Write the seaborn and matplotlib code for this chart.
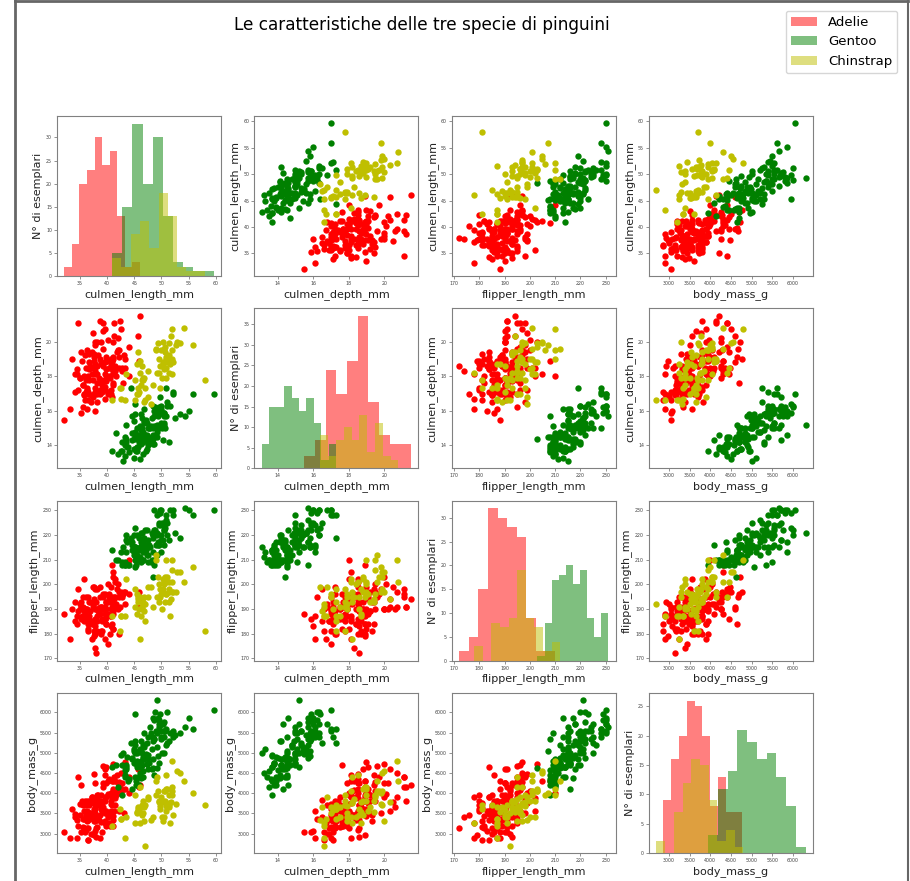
import pandas as pd
import matplotlib
matplotlib.use('Agg')
import matplotlib.pyplot as plt
import seaborn as sns
from matplotlib.patches import Patch
from matplotlib.lines import Line2D

features = ['culmen_length_mm', 'culmen_depth_mm', 'flipper_length_mm', 'body_mass_g']
species = ['Adelie', 'Gentoo', 'Chinstrap']
colors = ['red', 'green', 'y']

# Adelie
adelie_culmen_length = [39.1, 39.5, 40.3, 36.7, 39.3, 38.9, 39.2, 34.1, 42.0, 37.8, 37.8, 41.1, 38.6, 34.6, 36.6, 38.7, 42.5, 34.4, 46.0,
                        37.8, 37.7, 35.9, 38.2, 38.8, 35.3, 40.6, 40.5, 37.9, 40.5,
                        39.5, 37.2, 39.5, 40.9, 36.4, 39.2, 38.8, 42.2, 37.6, 39.8, 36.5, 40.8, 36.0, 44.1, 37.0, 39.6, 41.1, 37.5, 36.0, 42.3,
                        39.6, 40.1, 35.0, 42.0, 34.5, 41.4, 39.0, 40.6, 36.5, 37.6, 35.7, 41.3, 37.6, 41.1, 36.4, 41.6, 35.5, 41.1,
                        35.9, 41.8, 33.5, 39.7, 39.6, 45.8, 35.5, 42.8, 40.9, 37.2, 36.2, 42.1, 34.6, 42.9, 36.7, 35.1,
                        37.3, 41.3, 36.3, 36.9, 38.3, 38.9, 35.7, 41.1, 34.0, 39.6, 36.2, 40.8, 38.1, 40.3, 33.1, 43.2,
                        35.0, 41.0, 37.7, 37.8, 37.9, 39.7, 38.6, 38.2, 38.1, 43.2, 38.1, 45.6, 39.7, 42.2, 39.6, 42.7,
                        38.6, 37.3, 35.7, 41.1, 36.2, 37.7, 40.2, 41.4, 35.2, 40.6, 38.8, 41.5, 39.0, 44.1, 38.5, 43.1,
                        36.8, 37.5, 38.1, 41.1, 35.6, 40.2, 37.0, 39.7, 40.2, 40.6, 32.1, 40.7, 37.3, 39.0, 39.2, 36.6, 36.0, 37.8, 36.0, 41.5]
adelie_culmen_depth = [18.7, 17.4, 18.0, 19.3, 20.6, 17.8, 19.6, 18.1, 20.2, 17.1, 17.3, 17.6, 21.2, 21.1, 17.8, 19.0, 20.7, 18.4, 21.5,
                       18.3, 18.7, 19.2, 18.1, 17.2, 18.9, 18.6, 17.9, 18.6, 18.9,
                       16.7, 18.1, 17.8, 18.9, 17.0, 21.1, 20.0, 18.5, 19.3, 19.1, 18.0, 18.4, 18.5, 19.7, 16.9, 18.8, 19.0, 18.9, 17.9, 21.2,
                       17.7, 18.9, 17.9, 19.5, 18.1, 18.6, 17.5, 18.8, 16.6, 19.1, 16.9, 21.1, 17.0, 18.2, 17.1, 18.0, 16.2, 19.1,
                       16.6, 19.4, 19.0, 18.4, 17.2, 18.9, 17.5, 18.5, 16.8, 19.4, 16.1, 19.1, 17.2, 17.6, 18.8, 19.4,
                       17.8, 20.3, 19.5, 18.6, 19.2, 18.8, 18.0, 18.1, 17.1, 18.1, 17.3, 18.9, 18.6, 18.5, 16.1, 18.5,
                       17.9, 20.0, 16.0, 20.0, 18.6, 18.9, 17.2, 20.0, 17.0, 19.0, 16.5, 20.3, 17.7, 19.5, 20.7, 18.3,
                       17.0, 20.5, 17.0, 18.6, 17.2, 19.8, 17.0, 18.5, 15.9, 19.0, 17.6, 18.3, 17.1, 18.0, 17.9, 19.2,
                       18.5, 18.5, 17.6, 17.5, 17.5, 20.1, 16.5, 17.9, 17.1, 17.2, 15.5, 17.0, 16.8, 18.7, 18.6, 18.4, 17.8, 18.1, 17.1, 18.5]
adelie_flipper_length = [181, 186, 195, 193, 190, 181, 195, 193, 190, 186, 180, 182, 191, 198, 185, 195, 197, 184, 194,
                         174, 180, 189, 185, 180, 187, 183, 187, 172, 180,
                         178, 178, 188, 184, 195, 196, 190, 180, 181, 184, 182, 195, 186, 196, 185, 190, 182, 179, 190, 191,
                         186, 188, 190, 200, 187, 191, 186, 193, 181, 194, 185, 195, 185, 192, 184, 192, 195, 188,
                         190, 198, 190, 190, 196, 197, 190, 195, 191, 184, 187, 195, 189, 196, 187, 193,
                         191, 194, 190, 189, 189, 190, 202, 205, 185, 186, 187, 208, 190, 196, 178, 192,
                         192, 203, 183, 190, 193, 184, 199, 190, 181, 197, 198, 191, 193, 197, 191, 196,
                         188, 199, 189, 189, 187, 198, 176, 202, 186, 199, 191, 195, 191, 210, 190, 197,
                         193, 199, 187, 190, 191, 200, 185, 193, 193, 187, 188, 190, 192, 185, 190, 184, 195, 193, 187, 201]
adelie_body_mass = [3750, 3800, 3250, 3450, 3650, 3625, 4675, 3475, 4250, 3300, 3700, 3200, 3800, 4400, 3700, 3450, 4500, 3325, 4200,
                    3400, 3600, 3800, 3950, 3800, 3800, 3550, 3200, 3150, 3950,
                    3250, 3900, 3300, 3900, 3325, 4150, 3950, 3550, 3300, 4650, 3150, 3900, 3100, 4400, 3000, 4600, 3425, 2975, 3450, 4150,
                    3500, 4300, 3450, 4050, 2900, 3700, 3550, 3800, 2850, 3750, 3150, 4400, 3600, 4050, 2850, 3950, 3350, 4100,
                    3050, 4450, 3600, 3900, 3550, 4150, 3700, 4250, 3700, 3900, 3550, 4000, 3200, 4700, 3800, 4200,
                    3350, 3550, 3800, 3500, 3950, 3600, 3550, 4300, 3400, 4450, 3300, 4300, 3700, 4350, 2900, 4100,
                    3725, 4725, 3075, 4250, 2925, 3550, 3750, 3900, 3175, 4775, 3825, 4600, 3200, 4275, 3900, 4075,
                    2900, 3775, 3350, 3325, 3150, 3500, 3450, 3875, 3050, 4000, 3275, 4300, 3050, 4000, 3325, 3500,
                    3500, 4475, 3425, 3900, 3175, 3975, 3400, 4250, 3400, 3475, 3050, 3725, 3000, 3650, 4250, 3475, 3450, 3750, 3700, 4000]

# Gentoo
gentoo_culmen_length = [46.1, 50.0, 48.7, 50.0, 47.6, 46.5, 45.4, 46.7, 43.3, 46.8, 40.9, 49.0, 45.5, 48.4, 45.8, 49.3, 42.0, 49.2, 46.2, 48.7,
                        50.2, 45.1, 46.5, 46.3, 42.9, 46.1, 44.5, 47.8, 48.2, 50.0, 47.3, 42.8, 45.1, 59.6,
                        49.1, 48.4, 42.6, 44.4, 44.0, 48.7, 42.7, 49.6, 45.3, 49.6, 50.5, 43.6, 45.5, 50.5, 44.9, 45.2, 46.6, 48.5, 45.1, 50.1,
                        46.5, 45.0, 43.8, 45.5, 43.2, 50.4, 45.3, 46.2, 45.7, 54.3, 45.8, 49.8, 46.2, 49.5, 43.5, 50.7, 47.7, 46.4, 48.2, 46.5,
                        46.4, 48.6, 47.5, 51.1, 45.2, 45.2,
                        49.1, 52.5, 47.4, 50.0, 44.9, 50.8, 43.4, 51.3, 47.5, 52.1, 47.5, 52.2, 45.5, 49.5, 44.5, 50.8, 49.4, 46.9, 48.4, 51.1,
                        48.5, 55.9, 47.2, 49.1, 47.3, 46.8, 41.7, 53.4, 43.3, 48.1, 50.5, 49.8, 43.5, 51.5, 46.2, 55.1, 44.5, 48.8, 47.2,
                        46.8, 50.4, 45.2, 49.9]
gentoo_culmen_depth = [13.2, 16.3, 14.1, 15.2, 14.5, 13.5, 14.6, 15.3, 13.4, 15.4, 13.7, 16.1, 13.7, 14.6, 14.6, 15.7, 13.5, 15.2, 14.5, 15.1,
                       14.3, 14.5, 14.5, 15.8, 13.1, 15.1, 14.3, 15.0, 14.3, 15.3, 15.3, 14.2, 14.5, 17.0,
                       14.8, 16.3, 13.7, 17.3, 13.6, 15.7, 13.7, 16.0, 13.7, 15.0, 15.9, 13.9, 13.9, 15.9, 13.3, 15.8, 14.2, 14.1, 14.4, 15.0,
                       14.4, 15.4, 13.9, 15.0, 14.5, 15.3, 13.8, 14.9, 13.9, 15.7, 14.2, 16.8, 14.4, 16.2, 14.2, 15.0, 15.0, 15.6, 15.6, 14.8,
                       15.0, 16.0, 14.2, 16.3, 13.8, 16.4,
                       14.5, 15.6, 14.6, 15.9, 13.8, 17.3, 14.4, 14.2, 14.0, 17.0, 15.0, 17.1, 14.5, 16.1, 14.7, 15.7, 15.8, 14.6, 14.4, 16.5,
                       15.0, 17.0, 15.5, 15.0, 13.8, 16.1, 14.7, 15.8, 14.0, 15.1, 15.2, 15.9, 15.2, 16.3, 14.1, 16.0, 15.7, 16.2, 13.7,
                       14.3, 15.7, 14.8, 16.1]
gentoo_flipper_length = [211, 230, 210, 218, 215, 210, 211, 219, 209, 215, 214, 216, 214, 213, 210, 217, 210, 221, 209, 222,
                         218, 215, 213, 215, 215, 215, 216, 215, 210, 220, 222, 209, 207, 230,
                         220, 220, 213, 219, 208, 208, 208, 225, 210, 216, 222, 217, 210, 225, 213, 215, 210, 220, 210, 225,
                         217, 220, 208, 220, 208, 224, 208, 221, 214, 231, 219, 230, 214, 229, 220, 223, 216, 221, 221, 217,
                         216, 230, 209, 220, 215, 223,
                         212, 221, 212, 224, 212, 228, 218, 218, 212, 230, 218, 228, 212, 224, 214, 226, 216, 222, 203, 225,
                         219, 228, 215, 228, 216, 215, 210, 219, 208, 209, 216, 229, 213, 230, 217, 230, 217, 222, 214,
                         215, 222, 212, 213]
gentoo_body_mass = [4500, 5700, 4450, 5700, 5400, 4550, 4800, 5200, 4400, 5150, 4650, 5550, 4650, 5850, 4200, 5850, 4150, 6300, 4800, 5350,
                    5700, 5000, 4400, 5050, 5000, 5100, 4100, 5650, 4600, 5550, 5250, 4700, 5050, 6050,
                    5150, 5400, 4950, 5250, 4350, 5350, 3950, 5700, 4300, 4750, 5550, 4900, 4200, 5400, 5100, 5300, 4850, 5300, 4400, 5000,
                    4900, 5050, 4300, 5000, 4450, 5550, 4200, 5300, 4400, 5650, 4700, 5700, 4650, 5800, 4700, 5550, 4750, 5000, 5100, 5200,
                    4700, 5800, 4600, 6000, 4750, 5950,
                    4625, 5450, 4725, 5350, 4750, 5600, 4600, 5300, 4875, 5550, 4950, 5400, 4750, 5650, 4850, 5200, 4925, 4875, 4625, 5250,
                    4850, 5600, 4975, 5500, 4725, 5500, 4700, 5500, 4575, 5500, 5000, 5950, 4650, 5500, 4375, 5850, 4875, 6000, 4925,
                    4850, 5750, 5200, 5400]

# Chinstrap
chinstrap_culmen_length = [46.5, 50.0, 51.3, 45.4, 52.7, 45.2, 46.1, 51.3, 46.0, 51.3, 46.6, 51.7, 47.0, 52.0, 45.9, 50.5, 50.3, 58.0, 46.4, 49.2,
                           42.4, 48.5, 43.2, 50.6, 46.7, 52.0,
                           50.5, 49.5, 46.4, 52.8, 40.9, 54.2, 42.5, 51.0, 49.7, 47.5, 47.6, 52.0, 46.9, 53.5, 49.0, 46.2, 50.9, 45.5, 50.9, 50.8,
                           50.1, 49.0, 51.5, 49.8, 48.1, 51.4, 45.7, 50.7, 42.5, 52.2, 45.2, 49.3, 50.2, 45.6, 51.9, 46.8, 45.7, 55.8, 43.5, 49.6,
                           50.8, 50.2]
chinstrap_culmen_depth = [17.9, 19.5, 19.2, 18.7, 19.8, 17.8, 18.2, 18.2, 18.9, 19.9, 17.8, 20.3, 17.3, 18.1, 17.1, 19.6, 20.0, 17.8, 18.6, 18.2,
                          17.3, 17.5, 16.6, 19.4, 17.9, 19.0,
                          18.4, 19.0, 17.8, 20.0, 16.6, 20.8, 16.7, 18.8, 18.6, 16.8, 18.3, 20.7, 16.6, 19.9, 19.5, 17.5, 19.1, 17.0, 17.9, 18.5,
                          17.9, 19.6, 18.7, 17.3, 16.4, 19.0, 17.3, 19.7, 17.3, 18.8, 16.6, 19.9, 18.8, 19.4, 19.5, 16.5, 17.0, 19.8, 18.1, 18.2,
                          19.0, 18.7]
chinstrap_flipper_length = [192, 196, 193, 188, 197, 198, 178, 197, 195, 198, 193, 194, 185, 201, 190, 201, 197, 181, 190, 195,
                            181, 191, 187, 193, 195, 197,
                            200, 200, 191, 205, 187, 201, 187, 203, 195, 199, 195, 210, 192, 205, 210, 187, 196, 196, 196, 201,
                            190, 212, 187, 198, 199, 201, 193, 203, 187, 197, 191, 203, 202, 194, 206, 189, 195, 207, 202, 193,
                            210, 198]
chinstrap_body_mass = [3500, 3900, 3650, 3525, 3725, 3950, 3250, 3750, 4150, 3700, 3800, 3775, 3700, 4050, 3575, 4050, 3300, 3700, 3450, 4400,
                       3600, 3400, 2900, 3800, 3300, 4150,
                       3400, 3800, 3700, 4550, 3200, 4300, 3350, 4100, 3600, 3900, 3850, 4800, 2700, 4500, 3950, 3650, 3550, 3500, 3675, 4450,
                       3400, 4300, 3250, 3675, 3325, 3950, 3600, 4050, 3350, 3450, 3250, 4050, 3800, 3525, 3950, 3650, 3650, 4000, 3400, 3775,
                       4100, 3775]

frames = []
for sp, cols in [('Adelie', [adelie_culmen_length, adelie_culmen_depth, adelie_flipper_length, adelie_body_mass]),
                 ('Gentoo', [gentoo_culmen_length, gentoo_culmen_depth, gentoo_flipper_length, gentoo_body_mass]),
                 ('Chinstrap', [chinstrap_culmen_length, chinstrap_culmen_depth, chinstrap_flipper_length, chinstrap_body_mass])]:
    d = pd.DataFrame(dict(zip(features, cols)))
    d['species'] = sp
    frames.append(d)
df = pd.concat(frames, ignore_index=True)

fig, axes = plt.subplots(4, 4, figsize=(9.1, 8.81), dpi=100)
plt.subplots_adjust(left=0.0626, right=0.8934, top=0.8683, bottom=0.0318, wspace=0.203, hspace=0.202)

for i, fy in enumerate(features):
    for j, fx in enumerate(features):
        ax = axes[i, j]
        for sp, col in zip(species, colors):
            sub = df[df['species'] == sp]
            if i == j:
                # diagonal: histogram of the variable, one per species
                sns.histplot(x=sub[fx], bins=10, color=col, alpha=0.5, linewidth=0, ax=ax)
            else:
                sns.scatterplot(x=sub[fx], y=sub[fy], color=col, s=21, linewidth=0, ax=ax)
        ax.set_xlabel(fx, fontsize=8, color='#222222', labelpad=2)
        ax.set_ylabel('N° di esemplari' if i == j else fy, fontsize=8, color='#222222', labelpad=2)
        ax.tick_params(labelsize=3.4, length=2, width=0.5, pad=1.5, labelcolor='#444444', color='#666666')
        for s in ax.spines.values():
            s.set_color('#808080')
            s.set_linewidth(0.8)

fig.text(0.464, 0.9716, 'Le caratteristiche delle tre specie di pinguini', fontsize=12.2, ha='center', va='center')

handles = [Patch(facecolor=c, alpha=0.5, label=sp) for sp, c in zip(species, colors)]
fig.legend(handles=handles, loc='upper right', bbox_to_anchor=(904 / 910, 1 - 4 / 881), fontsize=9.5)

# screenshot frame
fig.add_artist(Line2D([15 / 910, 15 / 910], [0, 1], transform=fig.transFigure, color='#666666', lw=2))
fig.add_artist(Line2D([15 / 910, 908 / 910], [1 - 1 / 881, 1 - 1 / 881], transform=fig.transFigure, color='#666666', lw=2))
fig.add_artist(Line2D([908 / 910, 908 / 910], [0, 1], transform=fig.transFigure, color='#666666', lw=1.5))

fig.savefig('out.png', dpi=100)
